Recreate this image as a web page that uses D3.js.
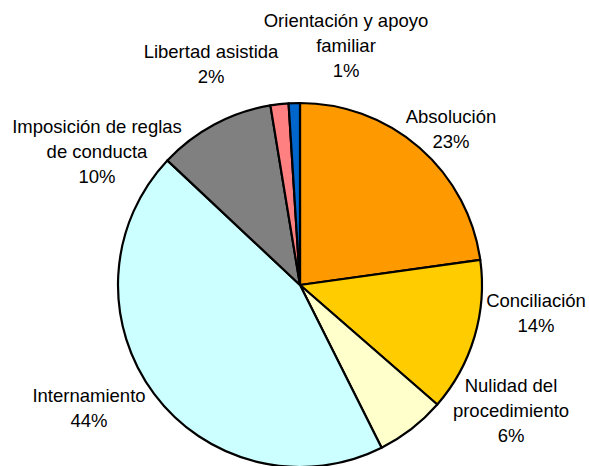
<!DOCTYPE html>
<html>
<head>
<meta charset="utf-8">
<script src="https://cdn.jsdelivr.net/npm/d3@7"></script>
<style>
  body { margin: 0; background: #fff; }
  text { font-family: "Liberation Sans", Arial, sans-serif; font-size: 18.5px; fill: #000; }
</style>
</head>
<body>
<div id="chart"></div>
<script>
// slices, clockwise from 12 o'clock
const categories = ["Absolución", "Conciliación", "Nulidad del procedimiento", "Internamiento",
  "Imposición de reglas de conducta", "Libertad asistida", "Orientación y apoyo familiar"];
const values = [22.8, 13.6, 6.2, 44.4, 10.4, 1.6, 1.0];
const colors = ["#FF9900", "#FFCC00", "#FFFFCC", "#CCFFFF", "#808080", "#FF8080", "#0066CC"];
// how each label breaks into lines
const labelLines = [
  ["Absolución"], ["Conciliación"], ["Nulidad del", "procedimiento"], ["Internamiento"],
  ["Imposición de reglas", "de conducta"], ["Libertad asistida"], ["Orientación y apoyo", "familiar"]
];

const width = 589, height = 466;
const cx = 300, cy = 285, radius = 182;
const lineH = 25;
// label anchor (center of first baseline) relative to pie centre
const labelAnchor = [[151, -162], [236, 22], [211, 107], [-211, 117], [-203, -152], [-89, -227], [46, -258]];

const svg = d3.select("#chart").append("svg")
  .attr("width", width)
  .attr("height", height);

const g = svg.append("g")
  .attr("transform", `translate(${cx},${cy})`);

const pie = d3.pie().sort(null).value(d => d);
const arc = d3.arc().innerRadius(0).outerRadius(radius);
const total = d3.sum(values);

g.selectAll("path")
  .data(pie(values))
  .join("path")
    .attr("d", arc)
    .attr("fill", (d, i) => colors[i])
    .attr("stroke", "#000")
    .attr("stroke-width", 2.2)
    .attr("stroke-linejoin", "round");

// labels
labelLines.forEach(function (lines, i) {
  const all = lines.concat([Math.round(values[i] / total * 100) + "%"]);
  const t = g.append("text")
    .attr("text-anchor", "middle")
    .attr("x", labelAnchor[i][0])
    .attr("y", labelAnchor[i][1]);
  all.forEach(function (s, k) {
    t.append("tspan")
      .attr("x", labelAnchor[i][0])
      .attr("dy", k === 0 ? 0 : lineH)
      .text(s);
  });
});
</script>
</body>
</html>
